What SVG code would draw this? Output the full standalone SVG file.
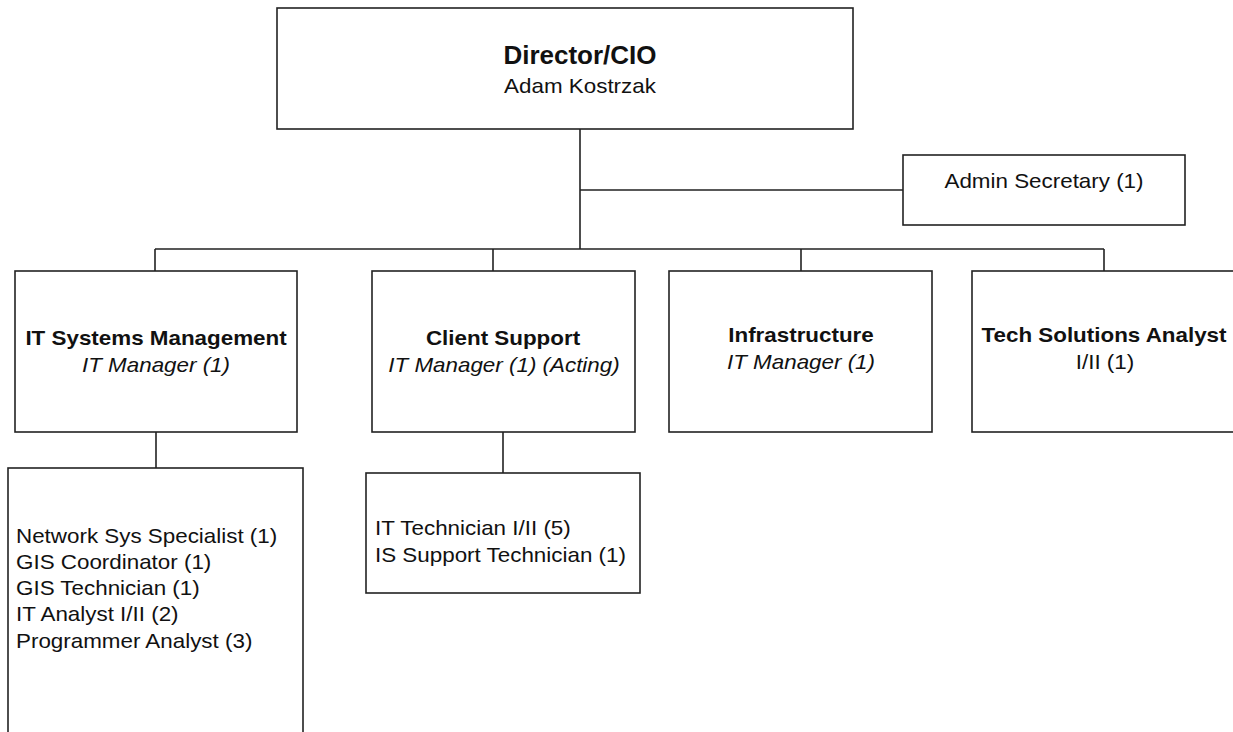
<svg xmlns="http://www.w3.org/2000/svg" width="1233" height="732" viewBox="0 0 1233 732">
<style>
.box{fill:#fff;stroke:#222;stroke-width:1.6}
.ln{fill:none;stroke:#222;stroke-width:1.6}
text{font-family:"Liberation Sans",Arial,sans-serif;fill:#111;font-size:20px}
.c{text-anchor:middle}
.b{font-weight:bold}
.i{font-style:italic}
.big{font-size:26px}
</style>
<rect width="1233" height="732" fill="#fff"/>
<g id="connectors">
<path class="ln" d="M580 129V249M580 190H903M155 249H1104M155 249V271M493 249V271M801 249V271M1104 249V271M156 432V468M503 432V473"/>
</g>
<g id="director">
<rect class="box" x="277" y="8" width="576" height="121"/>
<text class="c b big" x="580" y="64">Director/CIO</text>
<text class="c" transform="translate(580 93) scale(1.12 1)">Adam Kostrzak</text>
</g>
<g id="admin">
<rect class="box" x="903" y="155" width="282" height="70"/>
<text class="c" transform="translate(1044 188) scale(1.12 1)">Admin Secretary (1)</text>
</g>
<g id="itsm">
<rect class="box" x="15" y="271" width="282" height="161"/>
<text class="c b" transform="translate(156 345) scale(1.12 1)">IT Systems Management</text>
<text class="c i" transform="translate(156 372) scale(1.12 1)">IT Manager (1)</text>
</g>
<g id="client">
<rect class="box" x="372" y="271" width="263" height="161"/>
<text class="c b" transform="translate(503 345) scale(1.12 1)">Client Support</text>
<text class="c i" transform="translate(504 372) scale(1.12 1)">IT Manager (1) (Acting)</text>
</g>
<g id="infra">
<rect class="box" x="669" y="271" width="263" height="161"/>
<text class="c b" transform="translate(801 342) scale(1.12 1)">Infrastructure</text>
<text class="c i" transform="translate(801 369) scale(1.12 1)">IT Manager (1)</text>
</g>
<g id="tech">
<rect class="box" x="972" y="271" width="280" height="161"/>
<text class="c b" transform="translate(1104 342) scale(1.12 1)">Tech Solutions Analyst</text>
<text class="c" transform="translate(1105 369) scale(1.12 1)">I/II (1)</text>
</g>
<g id="itsm-staff">
<rect class="box" x="8" y="468" width="295" height="280"/>
<text transform="translate(16 543) scale(1.12 1)">Network Sys Specialist (1)</text>
<text transform="translate(16 569) scale(1.12 1)">GIS Coordinator (1)</text>
<text transform="translate(16 595) scale(1.12 1)">GIS Technician (1)</text>
<text transform="translate(16 621) scale(1.12 1)">IT Analyst I/II (2)</text>
<text transform="translate(16 648) scale(1.12 1)">Programmer Analyst (3)</text>
</g>
<g id="client-staff">
<rect class="box" x="366" y="473" width="274" height="120"/>
<text transform="translate(375 535) scale(1.12 1)">IT Technician I/II (5)</text>
<text transform="translate(375 562) scale(1.12 1)">IS Support Technician (1)</text>
</g>
</svg>
